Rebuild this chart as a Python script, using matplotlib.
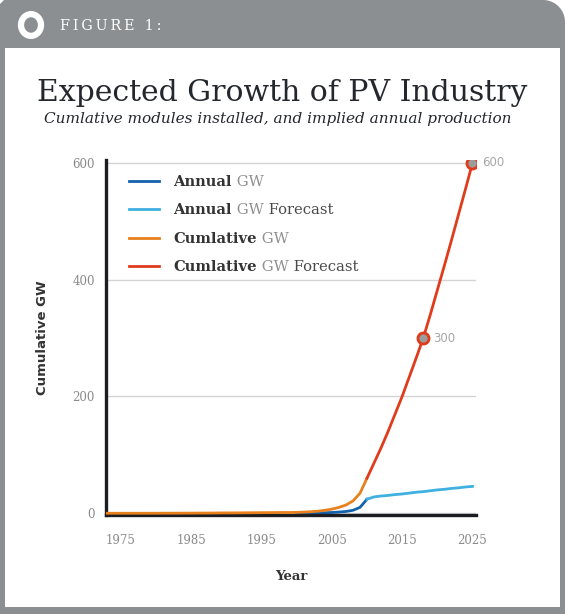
import matplotlib.pyplot as plt
import numpy as np
from matplotlib.patches import Polygon, Rectangle, Circle

# ---- data ----
years_actual = list(range(1973, 2011))
cumul_actual = [0.0, 0.0, 0.0, 0.0, 0.0, 0.0, 0.0, 0.0, 0.1, 0.1,
                0.1, 0.2, 0.2, 0.3, 0.3, 0.4, 0.5, 0.6, 0.6, 0.7,
                0.8, 0.9, 1.0, 1.1, 1.2, 1.3, 1.3, 1.5, 2.0, 2.6,
                3.5, 5.0, 7.0, 10.0, 14.0, 21.0, 34.0, 60.0]
years_annual = list(range(2000, 2011))
annual_actual = [0.0, 0.2, 0.4, 0.6, 0.9, 1.3, 2.0, 3.0, 5.0, 10.0, 24.0]

years_fc = list(range(2010, 2026))
cumul_fc = [60, 86, 112, 140, 170, 200, 233, 266, 300,
            340, 382, 424, 467, 511, 555, 600]
annual_fc = [24, 28, 29.5, 30.5, 32, 33, 34.5, 36, 37,
             38.5, 40, 41, 42.5, 43.5, 45, 46]

marked_years = [2018, 2025]
marked_vals = [300, 600]

xticks = [1975, 1985, 1995, 2005, 2015, 2025]
yticks = [0, 200, 400, 600]

# colours
c_annual = '#1262ac'
c_annual_fc = '#3fb0e0'
c_cumul = '#e8801e'
c_cumul_fc = '#e03c1c'
frame_gray = '#8c8f92'
dark = '#24272c'
tick_gray = '#8a8a8a'

W, H = 565, 614
fig = plt.figure(figsize=(W / 100, H / 100), dpi=100)
fig.patch.set_facecolor('white')


def px(x, y):
    # top-down pixel coords -> figure fraction
    return (x / W, 1 - y / H)


# gray frame with rounded top-right corner
r = 22
ang = np.linspace(np.pi / 2, 0, 20)
pts = [px(0, 614), px(0, 4), px(4, 0)]
pts += [px(W - r + r * np.cos(a), r - r * np.sin(a)) for a in ang]
pts += [px(W, 614)]
fig.patches.append(Polygon(pts, closed=True, transform=fig.transFigure,
                           facecolor=frame_gray, edgecolor='none', zorder=-2))
x0, y0 = px(5, 607)
x1, y1 = px(560, 48)
fig.patches.append(Rectangle((x0, y0), x1 - x0, y1 - y0, transform=fig.transFigure,
                             facecolor='white', edgecolor='none', zorder=-1))

# header ring + label
cx, cy = px(31, 25)
fig.patches.append(Circle((cx, cy), 10 / W, transform=fig.transFigure,
                          facecolor='none', edgecolor='white', linewidth=4.5, zorder=1))
fig.text(*px(60, 26), '\u2009'.join('FIGURE 1:'), color='white', fontsize=10.3,
         family='DejaVu Serif', va='center', ha='left')

# titles
fig.text(*px(282, 93), 'Expected Growth of PV Industry', color=dark,
         fontsize=21.5, family='DejaVu Serif', ha='center', va='center')
fig.text(*px(278, 119), 'Cumlative modules installed, and implied annual production',
         color=dark, fontsize=11, family='DejaVu Serif', style='italic',
         ha='center', va='center')

# axes
l, b = px(106, 515)
rgt, t = px(476, 160)
ax = fig.add_axes([l, b, rgt - l, t - b])
ax.set_facecolor('none')

ln1, = ax.plot(years_annual, annual_actual, color=c_annual, lw=2, zorder=2)
ln2, = ax.plot(years_fc, annual_fc, color=c_annual_fc, lw=2, zorder=2)
ln3, = ax.plot(years_actual, cumul_actual, color=c_cumul, lw=2, zorder=3)
ln4, = ax.plot(years_fc, cumul_fc, color=c_cumul_fc, lw=2, zorder=3)
ax.plot(marked_years, marked_vals, 'o', ms=8, mfc='#9c9c9c', mec=c_cumul_fc,
        mew=2, zorder=4)
for xv, yv in zip(marked_years, marked_vals):
    ax.annotate(str(yv), (xv, yv), xytext=(7, 0), textcoords='offset points',
                color='#a8a8a8', fontsize=8.5, family='DejaVu Sans',
                va='center', ha='left')

ax.set_xlim(1972.9, 2025.5)
ax.set_ylim(-3, 605)
ax.set_xticks(xticks)
ax.set_yticks(yticks)
ax.tick_params(length=0, labelcolor=tick_gray, labelsize=8.5, pad=8)
for lab in ax.get_xticklabels() + ax.get_yticklabels():
    lab.set_family('DejaVu Serif')
ax.tick_params(axis='x', pad=14)
ax.yaxis.grid(True, color='#d4d4d4', lw=1)
ax.set_axisbelow(True)
for s in ['top', 'right']:
    ax.spines[s].set_visible(False)
for s in ['left', 'bottom']:
    ax.spines[s].set_color('#1b1d22')
    ax.spines[s].set_linewidth(2.4)
    ax.spines[s].set_zorder(2.5)

ax.set_xlabel('Year', family='DejaVu Serif', fontweight='bold', fontsize=9.5,
              color='#333333', labelpad=16)
ax.set_ylabel('Cumulative GW', family='DejaVu Sans', fontweight='bold',
              fontsize=9.5, color='#333333', labelpad=17)

# legend: bold first word, gray "GW", dark "Forecast"
leg = ax.legend([ln1, ln2, ln3, ln4], ['Annual', 'Annual', 'Cumlative', 'Cumlative'],
                loc='upper left', bbox_to_anchor=(0.063, 0.958), frameon=False,
                prop={'family': 'DejaVu Serif', 'weight': 'bold', 'size': 10.6},
                labelspacing=0.98, handlelength=2.0, handletextpad=1.0,
                borderpad=0, borderaxespad=0, labelcolor='#333333')
suffixes = [' GW', ' GW', ' GW', ' GW']
extras = ['', ' Forecast', '', ' Forecast']
for txt, suf, ext in zip(leg.get_texts(), suffixes, extras):
    a = ax.annotate(suf, xy=(1, 0), xycoords=txt, va='bottom', ha='left',
                    color='#8f8f8f', fontsize=10.6, family='DejaVu Serif', zorder=6)
    if ext:
        ax.annotate(ext, xy=(1, 0), xycoords=a, va='bottom', ha='left',
                    color='#4a4a4a', fontsize=10.6, family='DejaVu Serif', zorder=7)

fig.savefig('out.png', dpi=100, facecolor=fig.get_facecolor())
